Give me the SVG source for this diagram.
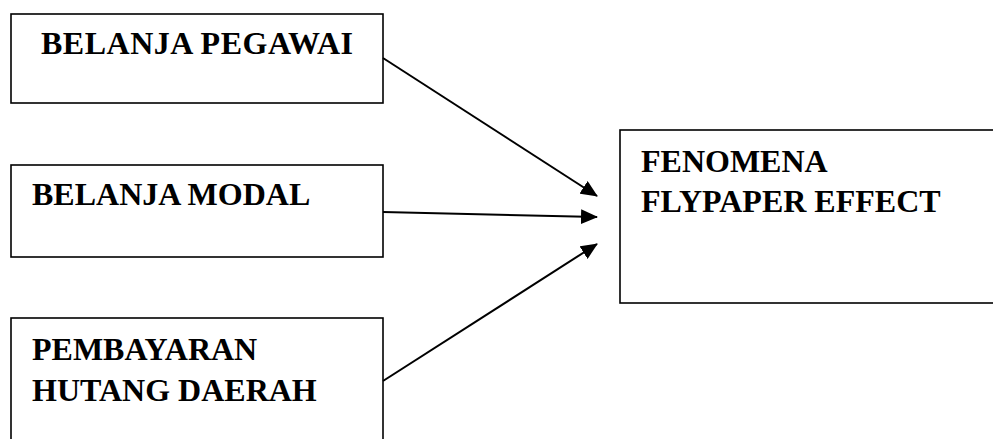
<svg xmlns="http://www.w3.org/2000/svg" width="993" height="439" viewBox="0 0 993 439">
<style>
.box{fill:#fff;stroke:#000;stroke-width:1.6}
.t{font-family:"Liberation Serif","Times New Roman",serif;font-weight:bold;font-size:32px;fill:#000}
.c{stroke:#000;stroke-width:2;fill:none}
</style>
<defs>
<marker id="ah" markerWidth="17" markerHeight="15" refX="16" refY="7.5" orient="auto" markerUnits="userSpaceOnUse">
<path d="M0,0 L17,7.5 L0,15 Z" fill="#000"/>
</marker>
</defs>
<rect width="993" height="439" fill="#fff"/>
<g id="n1"><rect class="box" x="11" y="14" width="372" height="89"/><text class="t" x="41" y="54" letter-spacing="0.5">BELANJA PEGAWAI</text></g>
<g id="n2"><rect class="box" x="11" y="165" width="372" height="92"/><text class="t" x="32" y="205">BELANJA MODAL</text></g>
<g id="n3"><rect class="box" x="11" y="318" width="372" height="130"/><text class="t" x="32" y="360">PEMBAYARAN</text><text class="t" x="32" y="401">HUTANG DAERAH</text></g>
<g id="n4"><rect class="box" x="620" y="130" width="380" height="173"/><text class="t" x="641" y="172">FENOMENA</text><text class="t" x="641" y="212">FLYPAPER EFFECT</text></g>
<g id="connectors">
<line class="c" x1="383" y1="58" x2="597" y2="196" marker-end="url(#ah)"/>
<line class="c" x1="383" y1="212" x2="597" y2="217" marker-end="url(#ah)"/>
<line class="c" x1="383" y1="381" x2="597" y2="244" marker-end="url(#ah)"/>
</g>
</svg>
